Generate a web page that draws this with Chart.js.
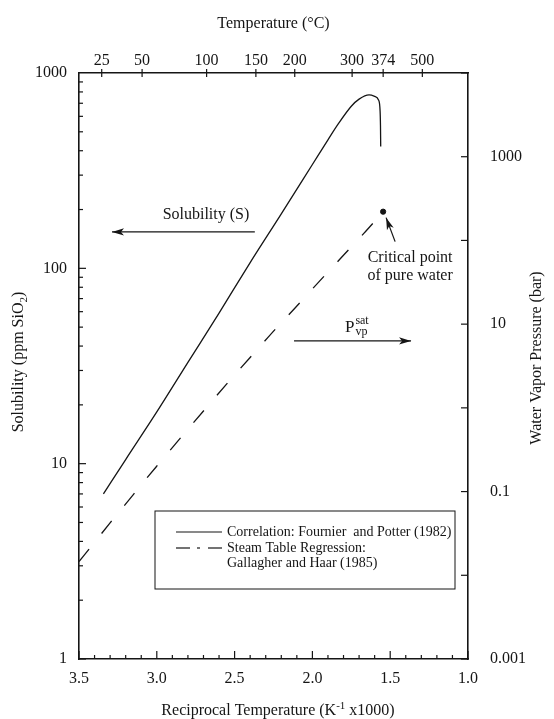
<!doctype html>
<html lang="en">
<head>
  <meta charset="UTF-8" />
  <meta name="viewport" content="width=device-width, initial-scale=1.0" />
  <script src="https://cdn.jsdelivr.net/npm/chart.js"></script>
  <title>Silica solubility vs. reciprocal temperature</title>
  <style>
    html, body { margin: 0; padding: 0; background: #fff; }
    canvas { display: block; }
  </style>
</head>
<body>
  <canvas id="myChart" width="554" height="719"></canvas>
  <script>
    // --- values ---
    // solid curve: quartz solubility (ppm SiO2), left axis
    const solRecipT = [3.343, 3.20, 3.00, 2.80, 2.60, 2.40, 2.20, 2.00, 1.90, 1.835, 1.75, 1.70, 1.636, 1.60, 1.575, 1.565, 1.5625, 1.561];
    const solPpm = [7.0, 10.5, 18.4, 33, 59, 107, 190, 340, 455, 547, 676, 735, 773, 760, 728, 640, 540, 420];

    // dashed curve: saturated water vapour pressure (bar), right axis
    const vapRecipT = [3.500, 3.411, 3.299, 3.193, 3.095, 3.002, 2.832, 2.680, 2.513, 2.364, 2.233, 2.113, 2.007, 1.911, 1.824, 1.745, 1.671, 1.605, 1.5455];
    const vapBar = [0.0146, 0.0234, 0.0425, 0.0738, 0.1235, 0.1995, 0.474, 1.014, 2.32, 4.76, 8.93, 15.5, 25.5, 39.8, 59.5, 85.9, 120.6, 165.2, 220.6];

    const criticalRecipT = [1.5455];
    const criticalBar = [220.6];

    // tick labels
    const recipTicks = [3.5, 3.0, 2.5, 2.0, 1.5, 1.0];
    const tempTicks = [25, 50, 100, 150, 200, 300, 374, 500];
    const ppmTicks = [1, 10, 100, 1000];
    const barTicks = [0.001, 0.1, 10, 1000];

    // --- layout / style ---
    const W = 554, H = 719;
    const AREA = { left: 79, right: 468, top: 73, bottom: 659 };
    const INK = "#151515";
    const FONT = "'Liberation Serif', 'Times New Roman', serif";
    const tickFont = { family: FONT, size: 16 };

    const toRecip = (t) => 1000 / (t + 273.15);

    function richText(ctx, parts, x, y, align) {
      let total = 0;
      for (const p of parts) {
        ctx.font = `${p[1]}px ${FONT}`;
        total += ctx.measureText(p[0]).width;
      }
      let cx = align === "center" ? x - total / 2 : x;
      ctx.textAlign = "left";
      ctx.textBaseline = "alphabetic";
      for (const p of parts) {
        ctx.font = `${p[1]}px ${FONT}`;
        ctx.fillText(p[0], cx, y + (p[2] || 0));
        cx += ctx.measureText(p[0]).width;
      }
    }

    function seg(ctx, x0, y0, x1, y1) {
      ctx.beginPath();
      ctx.moveTo(x0, y0);
      ctx.lineTo(x1, y1);
      ctx.stroke();
    }

    function arrow(ctx, x0, y0, x1, y1) {
      seg(ctx, x0, y0, x1, y1);
      const ang = Math.atan2(y1 - y0, x1 - x0);
      const len = 12, half = 3.6;
      ctx.save();
      ctx.translate(x1, y1);
      ctx.rotate(ang);
      ctx.beginPath();
      ctx.moveTo(0, 0);
      ctx.lineTo(-len, -half);
      ctx.lineTo(-len + 3, 0);
      ctx.lineTo(-len, half);
      ctx.closePath();
      ctx.fill();
      ctx.restore();
    }

    const decorations = {
      id: "decorations",
      afterDraw(chart) {
        const { ctx, chartArea: a, scales } = chart;
        const { x, xTop, y, y2 } = scales;
        ctx.save();
        ctx.strokeStyle = INK;
        ctx.fillStyle = INK;
        ctx.lineWidth = 1.2;

        // inward ticks
        for (let k = 10; k <= 35; k++) {
          const px = x.getPixelForValue(k / 10);
          seg(ctx, px, a.bottom, px, a.bottom - (k % 5 === 0 ? 8 : 4));
        }
        tempTicks.forEach((t) => {
          const px = xTop.getPixelForValue(toRecip(t));
          seg(ctx, px, a.top - 4, px, a.top + 4);
        });
        [1, 10, 100].forEach((d) => {
          for (let m = 1; m <= 9; m++) {
            const py = y.getPixelForValue(d * m);
            seg(ctx, a.left, py, a.left + (m === 1 ? 7 : 4), py);
          }
        });
        for (let e = -3; e <= 4; e++) {
          const py = y2.getPixelForValue(Math.pow(10, e));
          seg(ctx, a.right, py, a.right - 7, py);
        }

        // axis titles
        richText(ctx, [["Temperature (°C)", 16]], (a.left + a.right) / 2, 28, "center");
        richText(ctx, [["Reciprocal Temperature (K", 16], ["-1", 11, -6], [" x1000)", 16]], 278, 715, "center");
        ctx.save();
        ctx.translate(23, 362);
        ctx.rotate(-Math.PI / 2);
        richText(ctx, [["Solubility (ppm SiO", 16], ["2", 11, 4], [")", 16]], 0, 0, "center");
        ctx.restore();
        ctx.save();
        ctx.translate(541, 358);
        ctx.rotate(-Math.PI / 2);
        richText(ctx, [["Water Vapor Pressure (bar)", 16]], 0, 0, "center");
        ctx.restore();

        // "Solubility (S)" with arrow to the left axis
        ctx.textAlign = "center";
        ctx.textBaseline = "middle";
        ctx.font = `16px ${FONT}`;
        ctx.fillText("Solubility (S)", x.getPixelForValue(2.684), y.getPixelForValue(188));
        const sy = y.getPixelForValue(153.6);
        arrow(ctx, x.getPixelForValue(2.37), sy, x.getPixelForValue(3.288), sy);

        // critical point label
        const cpx = x.getPixelForValue(criticalRecipT[0]);
        const cpy = y2.getPixelForValue(criticalBar[0]);
        ctx.textAlign = "center";
        ctx.textBaseline = "middle";
        ctx.font = `16px ${FONT}`;
        ctx.fillText("Critical point", cpx + 27, cpy + 46);
        ctx.fillText("of pure water", cpx + 27, cpy + 64);
        arrow(ctx, cpx + 12, cpy + 30, cpx + 3, cpy + 6);

        // P_vp^sat with arrow to the right axis
        const px0 = x.getPixelForValue(1.791);
        const pb = y2.getPixelForValue(8.07);
        ctx.textAlign = "left";
        ctx.textBaseline = "alphabetic";
        ctx.font = `17px ${FONT}`;
        ctx.fillText("P", px0, pb);
        const pw = ctx.measureText("P").width;
        ctx.font = `12px ${FONT}`;
        ctx.fillText("sat", px0 + pw + 1, pb - 8);
        ctx.fillText("vp", px0 + pw + 1, pb + 3);
        const ay = y2.getPixelForValue(6.3);
        arrow(ctx, x.getPixelForValue(2.118), ay, x.getPixelForValue(1.366), ay);

        // legend box
        const L = { left: a.left + 76, top: a.top + 438, right: a.left + 376, bottom: a.top + 516 };
        ctx.lineWidth = 1;
        ctx.strokeRect(L.left, L.top, L.right - L.left, L.bottom - L.top);
        ctx.font = `14px ${FONT}`;
        ctx.textAlign = "left";
        ctx.textBaseline = "middle";
        const tx = L.left + 72;
        ctx.fillText("Correlation: Fournier  and Potter (1982)", tx, L.top + 21);
        ctx.fillText("Steam Table Regression:", tx, L.top + 37);
        ctx.fillText("Gallagher and Haar (1985)", tx, L.top + 52);
        ctx.lineWidth = 1.2;
        seg(ctx, L.left + 21, L.top + 21, L.left + 67, L.top + 21);
        seg(ctx, L.left + 21, L.top + 37, L.left + 35, L.top + 37);
        seg(ctx, L.left + 42, L.top + 37, L.left + 45, L.top + 37);
        seg(ctx, L.left + 53, L.top + 37, L.left + 67, L.top + 37);

        ctx.restore();
      },
    };

    const baseTicks = { autoSkip: false, maxRotation: 0, minRotation: 0, color: INK, font: tickFont };
    const noGrid = { display: false, drawTicks: false };
    const frame = { display: true, color: INK, width: 1.6 };

    const ctx = document.getElementById("myChart");
    new Chart(ctx, {
      type: "scatter",
      data: {
        datasets: [
          {
            label: "Correlation: Fournier and Potter (1982)",
            data: solRecipT.map((v, i) => ({ x: v, y: solPpm[i] })),
            xAxisID: "x",
            yAxisID: "y",
            showLine: true,
            cubicInterpolationMode: "monotone",
            borderColor: INK,
            borderWidth: 1.3,
            pointRadius: 0,
          },
          {
            label: "Steam Table Regression: Gallagher and Haar (1985)",
            data: vapRecipT.map((v, i) => ({ x: v, y: vapBar[i] })),
            xAxisID: "x",
            yAxisID: "y2",
            showLine: true,
            cubicInterpolationMode: "monotone",
            borderColor: INK,
            borderWidth: 1.3,
            borderDash: [16, 20],
            pointRadius: 0,
          },
          {
            label: "Critical point of pure water",
            data: criticalRecipT.map((v, i) => ({ x: v, y: criticalBar[i] })),
            xAxisID: "x",
            yAxisID: "y2",
            showLine: false,
            pointRadius: 2.6,
            backgroundColor: INK,
            borderColor: INK,
          },
        ],
      },
      options: {
        responsive: false,
        animation: false,
        devicePixelRatio: 1,
        layout: { padding: 0 },
        plugins: { legend: { display: false }, tooltip: { enabled: false } },
        scales: {
          x: {
            type: "linear",
            position: "bottom",
            reverse: true,
            min: 1.0,
            max: 3.5,
            grid: noGrid,
            border: frame,
            afterBuildTicks: (s) => { s.ticks = recipTicks.map((v) => ({ value: v })); },
            afterFit: (s) => { s.height = H - AREA.bottom; },
            ticks: { ...baseTicks, padding: 10, callback: (v) => Number(v).toFixed(1) },
          },
          xTop: {
            type: "linear",
            position: "top",
            reverse: true,
            min: 1.0,
            max: 3.5,
            grid: noGrid,
            border: frame,
            afterBuildTicks: (s) => { s.ticks = tempTicks.map((t) => ({ value: toRecip(t) })); },
            afterFit: (s) => { s.height = AREA.top; },
            ticks: { ...baseTicks, padding: 3, callback: (v, i) => String(tempTicks[i]) },
          },
          y: {
            type: "logarithmic",
            position: "left",
            min: 1,
            max: 1000,
            grid: noGrid,
            border: frame,
            afterBuildTicks: (s) => { s.ticks = ppmTicks.map((v) => ({ value: v })); },
            afterFit: (s) => { s.width = AREA.left; },
            ticks: { ...baseTicks, padding: 12, callback: (v) => String(v) },
          },
          y2: {
            type: "logarithmic",
            position: "right",
            min: 0.001,
            max: 10000,
            grid: noGrid,
            border: frame,
            afterBuildTicks: (s) => { s.ticks = barTicks.map((v) => ({ value: v })); },
            afterFit: (s) => { s.width = W - AREA.right; },
            ticks: { ...baseTicks, padding: 22, callback: (v) => String(v) },
          },
        },
      },
      plugins: [decorations],
    });
  </script>
</body>
</html>
